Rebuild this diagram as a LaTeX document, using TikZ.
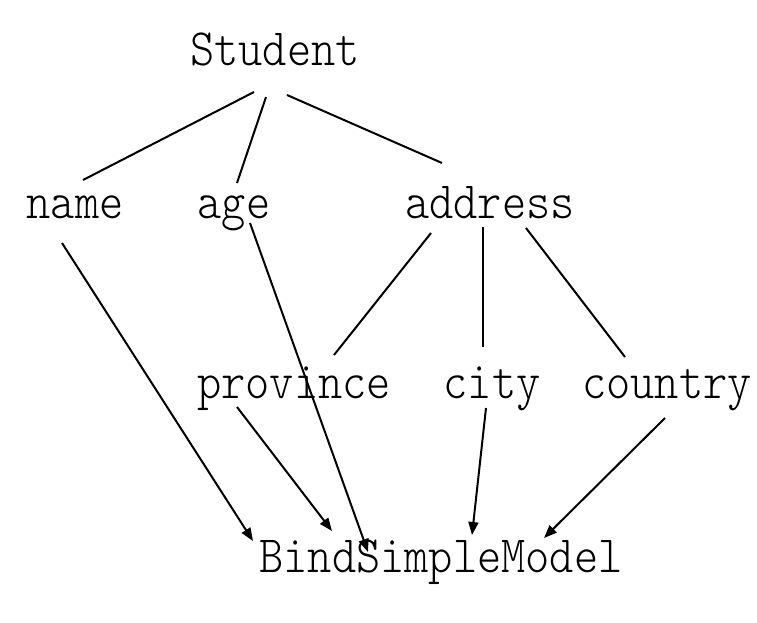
\documentclass[tikz,border=0pt]{standalone}
\usepackage{fontspec}
\usepackage{tikz}
\usetikzlibrary{arrows.meta}
\newfontfamily\fieldfont[FakeStretch=0.88]{Latin Modern Mono Light}

\begin{document}
\begin{tikzpicture}[x=1pt,y=-1pt,line width=2pt,>={Triangle[length=13pt,width=10pt]},
    field/.style={inner sep=0pt,anchor=base,font=\fieldfont\fontsize{52.4}{54}\selectfont}]
   \useasboundingbox (0,0) rectangle (757,622);
   \node [field] (stu) at (275,65) {Student};
   \node [field] (name) at (75,218) {name};
   \node [field] (age) at (234,218) {age};
   \node [field] (addr) at (490,218) {address};
   \node [field] (prov) at (294,398) {province};
   \node [field] (city) at (492,398) {city};
   \node [field] (ctry) at (667,398) {country};
   \node [field] (bind) at (441,572) {BindSimpleModel};
    \path
    ([shift={(-21,27)}]stu.base) edge ([shift={(8,-38)}]name.base)
    ([shift={(-9,32)}]stu.base) edge ([shift={(3,-35)}]age.base)
    ([shift={(12,30)}]stu.base) edge ([shift={(-48,-55)}]addr.base)
    ([shift={(-59,15)}]addr.base) edge ([shift={(40,-43)}]prov.base)
    ([shift={(-7,9)}]addr.base) edge ([shift={(-9,-51)}]city.base)
    ([shift={(36,10)}]addr.base) edge ([shift={(-42,-41)}]ctry.base);
    \path[->]
    ([shift={(-13,25)}]name.base) edge ([shift={(-188,-31)}]bind.base)
    ([shift={(16,5)}]age.base) edge ([shift={(-73,-20)}]bind.base)
    ([shift={(-57,9)}]prov.base) edge ([shift={(-109,-41)}]bind.base)
    ([shift={(-6,10)}]city.base) edge ([shift={(31,-37)}]bind.base)
    ([shift={(-2,20)}]ctry.base) edge ([shift={(103,-34)}]bind.base);
\end{tikzpicture}
\end{document}
